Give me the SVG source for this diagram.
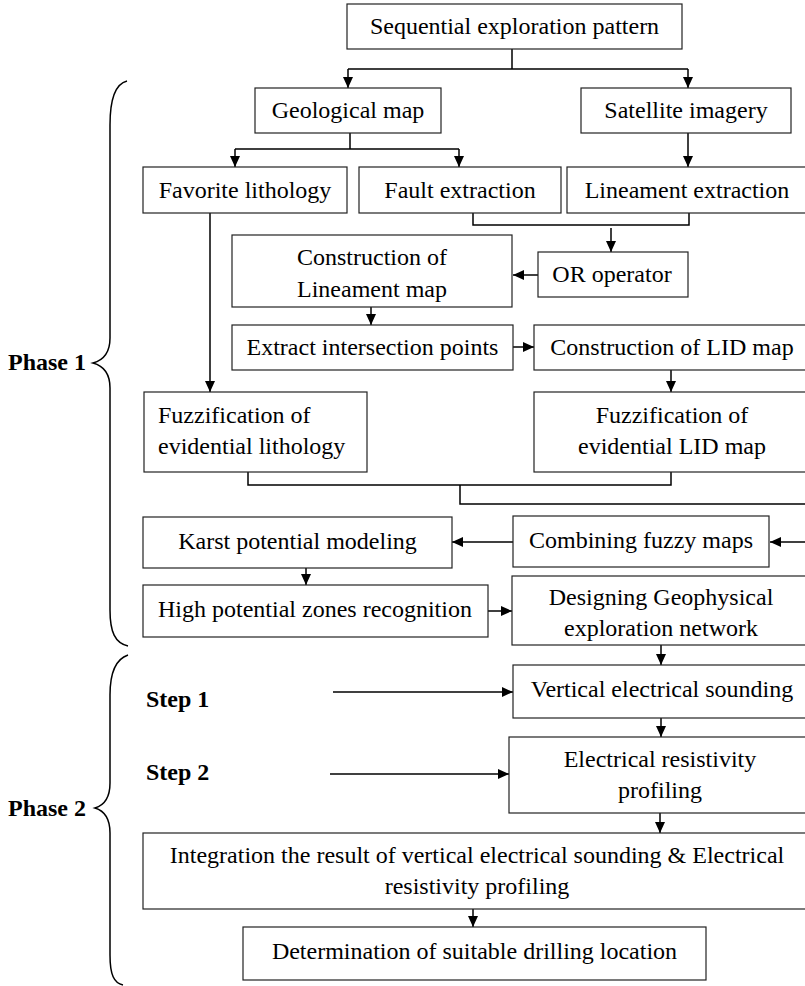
<svg xmlns="http://www.w3.org/2000/svg" width="805" height="986" viewBox="0 0 805 986">
<defs>
<marker id="ah" markerUnits="userSpaceOnUse" markerWidth="11" markerHeight="10" refX="11" refY="5" orient="auto">
<path d="M0,0 L11,5 L0,10 z" fill="#000"/>
</marker>
<style>
rect.b{fill:#fff;stroke:#222;stroke-width:1.2}
text{font-family:"Liberation Serif","Times New Roman",serif;font-size:24px;fill:#000}
text.c{text-anchor:middle}
text.bold{font-weight:bold}
.ln{fill:none;stroke:#000;stroke-width:1.5}
.ar{fill:none;stroke:#000;stroke-width:1.5;marker-end:url(#ah)}
.br{fill:none;stroke:#000;stroke-width:1.5}
</style>
</defs>
<rect width="805" height="986" fill="#fff"/>

<g id="connectors">
<path class="ln" d="M512,49 V69 M348,69 H688"/>
<path class="ar" d="M348,69 V88"/>
<path class="ar" d="M688,69 V88"/>
<path class="ln" d="M350,133 V149 M235,149 H459"/>
<path class="ar" d="M235,149 V167"/>
<path class="ar" d="M459,149 V167"/>
<path class="ar" d="M688,133 V167"/>
<path class="ln" d="M473,213 V225 H689 V213"/>
<path class="ar" d="M611,228 V252"/>
<path class="ar" d="M538,275 H513"/>
<path class="ar" d="M371,307 V325"/>
<path class="ar" d="M513,347 H534"/>
<path class="ar" d="M671,370 V392"/>
<path class="ar" d="M210,213 V392"/>
<path class="ln" d="M248,472 V485 H671 V472 M460,485 V504 H812 V542"/>
<path class="ar" d="M812,542 H770"/>
<path class="ar" d="M513,542 H452"/>
<path class="ar" d="M306,568 V585"/>
<path class="ar" d="M488,611 H512"/>
<path class="ar" d="M661,645 V665"/>
<path class="ar" d="M661,718 V737"/>
<path class="ar" d="M660,813 V833"/>
<path class="ar" d="M473,909 V927"/>
<path class="ar" d="M333,692 H513"/>
<path class="ar" d="M330,774 H509"/>
</g>

<g id="phase1">
<path class="br" d="M127,81 C115,84 110,100 110,125 L110,338 C110,352 104,360 93,363 C104,366 110,374 110,388 L110,610 C110,632 115,643 128,646"/>
<text class="bold" x="8" y="370">Phase 1</text>
</g>
<g id="phase2">
<path class="br" d="M128,655 C116,659 110,672 110,695 L110,783 C110,797 105,805 95,808 C105,811 110,819 110,833 L110,955 C110,975 114,983 123,985"/>
<text class="bold" x="8" y="816">Phase 2</text>
</g>
<g id="step1"><text class="bold" x="146" y="707">Step 1</text></g>
<g id="step2"><text class="bold" x="146" y="780">Step 2</text></g>

<g id="n-top"><rect class="b" x="347" y="4" width="335" height="45"/><text class="c" x="514.5" y="34">Sequential exploration pattern</text></g>
<g id="n-geo"><rect class="b" x="255" y="88" width="186" height="45"/><text class="c" x="348" y="118">Geological map</text></g>
<g id="n-sat"><rect class="b" x="581" y="88" width="210" height="45"/><text class="c" x="686" y="118">Satellite imagery</text></g>
<g id="n-fav"><rect class="b" x="143" y="167" width="204" height="46"/><text class="c" x="245" y="198">Favorite lithology</text></g>
<g id="n-fault"><rect class="b" x="359" y="167" width="202" height="46"/><text class="c" x="460" y="198">Fault extraction</text></g>
<g id="n-lin"><rect class="b" x="567" y="167" width="243" height="46"/><text class="c" x="687" y="198">Lineament extraction</text></g>
<g id="n-clm"><rect class="b" x="232" y="235" width="280" height="72"/><text class="c" x="372" y="265">Construction of</text><text class="c" x="372" y="297">Lineament map</text></g>
<g id="n-or"><rect class="b" x="538" y="252" width="150" height="45"/><text class="c" x="612" y="282">OR operator</text></g>
<g id="n-ext"><rect class="b" x="232" y="325" width="281" height="45"/><text class="c" x="372.5" y="355">Extract intersection points</text></g>
<g id="n-lid"><rect class="b" x="534" y="325" width="276" height="45"/><text class="c" x="672" y="355">Construction of LID map</text></g>
<g id="n-fzl"><rect class="b" x="144" y="392" width="223" height="80"/><text x="158" y="423">Fuzzification of</text><text x="158" y="454">evidential lithology</text></g>
<g id="n-fzd"><rect class="b" x="534" y="392" width="276" height="80"/><text class="c" x="672" y="423">Fuzzification of</text><text class="c" x="672" y="454">evidential LID map</text></g>
<g id="n-karst"><rect class="b" x="143" y="517" width="309" height="51"/><text class="c" x="297.5" y="549">Karst potential modeling</text></g>
<g id="n-comb"><rect class="b" x="513" y="516" width="256" height="51"/><text class="c" x="641" y="548">Combining fuzzy maps</text></g>
<g id="n-high"><rect class="b" x="143" y="585" width="345" height="52"/><text class="c" x="315" y="617">High potential zones recognition</text></g>
<g id="n-des"><rect class="b" x="512" y="576" width="298" height="69"/><text class="c" x="661" y="605">Designing Geophysical</text><text class="c" x="661" y="636">exploration network</text></g>
<g id="n-ves"><rect class="b" x="513" y="665" width="297" height="53"/><text class="c" x="662" y="697">Vertical electrical sounding</text></g>
<g id="n-erp"><rect class="b" x="509" y="737" width="301" height="76"/><text class="c" x="660" y="767">Electrical resistivity</text><text class="c" x="660" y="798">profiling</text></g>
<g id="n-int"><rect class="b" x="143" y="833" width="668" height="76"/><text class="c" x="477" y="863">Integration the result of vertical electrical sounding &amp; Electrical</text><text class="c" x="477" y="894">resistivity profiling</text></g>
<g id="n-det"><rect class="b" x="243" y="927" width="463" height="53"/><text class="c" x="474.5" y="959">Determination of suitable drilling location</text></g>
</svg>
